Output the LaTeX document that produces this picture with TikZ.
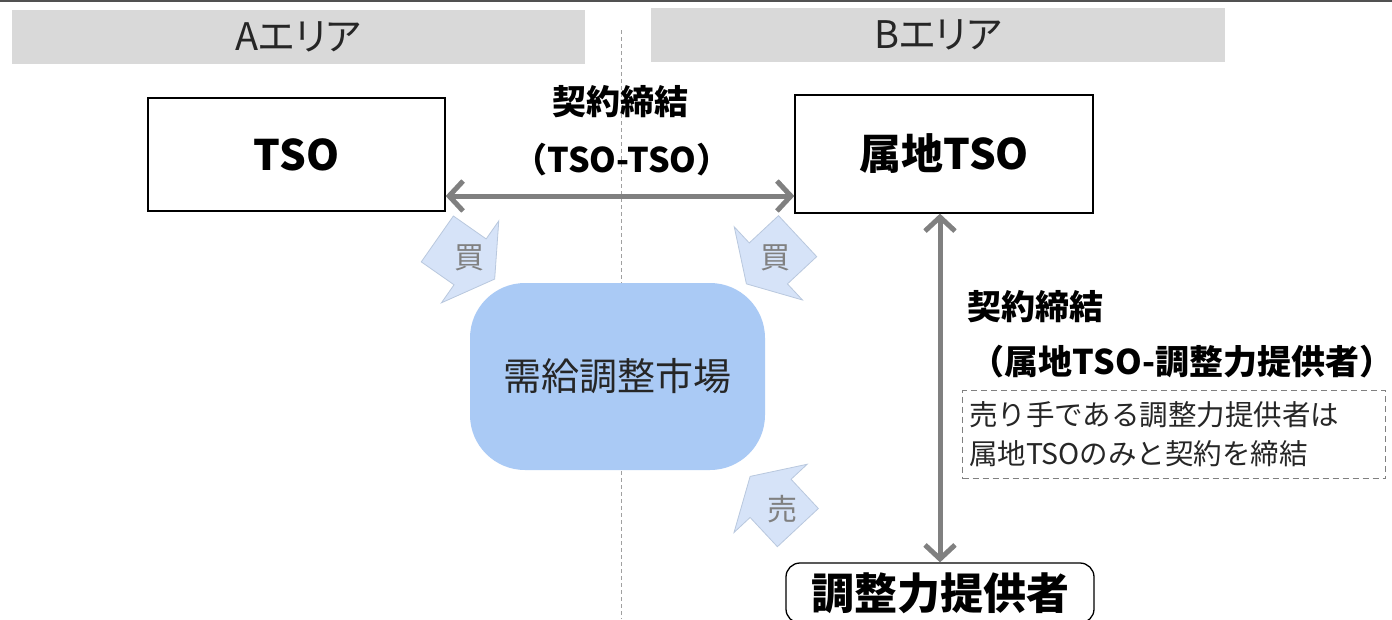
\documentclass[tikz,border=0pt]{standalone}
\usepackage{fontspec}
\setmainfont{Noto Sans CJK JP}
\newfontfamily\bannerfont{Noto Sans CJK JP}[RawFeature=+palt]
\usetikzlibrary{arrows.meta}
\definecolor{bannergray}{RGB}{217,217,217}
\definecolor{marketblue}{RGB}{170,202,245}
\definecolor{arrowfill}{RGB}{214,227,248}
\definecolor{arrowedge}{RGB}{185,200,222}
\definecolor{conngray}{RGB}{128,128,128}
\definecolor{divgray}{RGB}{160,160,160}
\definecolor{textdark}{RGB}{38,38,38}
\newcommand\blockarrow[3]{%
  \draw[blockarr, shift={(#1,#2)}, rotate=#3]
    (-35pt,-28pt) -- (5pt,-28pt) -- (5pt,-50pt) -- (35pt,0pt)
    -- (5pt,50pt) -- (5pt,28pt) -- (-35pt,28pt) -- cycle;}
\begin{document}
\begin{tikzpicture}[x=1pt,y=-1pt,
  banner/.style={fill=bannergray, draw=none, inner sep=0pt,
    minimum height=54pt, text=textdark,
    font=\bannerfont\fontsize{38}{44}\selectfont},
  tsobox/.style={draw=black, line width=1.3pt, fill=white, inner sep=0pt,
    font=\fontsize{42}{50}\selectfont\bfseries},
  market/.style={fill=marketblue, draw=none, rounded corners=55pt,
    minimum width=295pt, minimum height=187pt, inner sep=0pt,
    text=textdark, font=\fontsize{38}{44}\selectfont},
  provbox/.style={draw=black, line width=1.3pt, fill=white,
    rounded corners=14pt, minimum width=308pt, minimum height=60pt,
    inner sep=0pt, font=\fontsize{43}{50}\selectfont\bfseries},
  lbl/.style={inner sep=0pt, font=\fontsize{34}{40}\selectfont\bfseries},
  notebox/.style={draw=conngray, line width=1pt, dash pattern=on 6pt off 4pt,
    minimum width=423pt, minimum height=88pt, inner xsep=6pt, inner ysep=0pt,
    text width=410pt, align=left,
    font=\fontsize{28.5}{39}\selectfont, text=textdark},
  conn/.style={draw=conngray, line width=5pt,
    {Straight Barb[length=14pt,width=30pt]}-{Straight Barb[length=14pt,width=30pt]}},
  divider/.style={draw=divgray, line width=1pt, dash pattern=on 4pt off 3pt},
  blockarr/.style={fill=arrowfill, draw=arrowedge, line width=0.8pt, line join=miter},
  tradelbl/.style={inner sep=0pt, text=conngray, font=\fontsize{30}{36}\selectfont}
]
\useasboundingbox (0,0) rectangle (1392,619);
\fill[white] (0,0) rectangle (1392,619);
% top rule
\draw[line width=2pt, color=textdark!80] (0,1) -- (1392,1);
% area banners
\node[banner, minimum width=573pt] (areaA) at (298.5,37) {Aエリア};
\node[banner, minimum width=574pt] (areaB) at (938,35) {Bエリア};
% divider
\coordinate (divtop) at (621,30);
\coordinate (divbot) at (621,619);
\draw[divider] (divtop) -- (divbot);
% TSO boxes
\node[tsobox, minimum width=297pt, minimum height=113pt] (tso) at (296.5,154.5) {TSO};
\node[tsobox, minimum width=298pt, minimum height=118pt] (ztso) at (944,154) {属地TSO};
% market
\node[market] (mkt) at (617.5,376.5) {需給調整市場};
% provider
\node[provbox] (prov) at (940,593) {調整力提供者};
% labels
\node[lbl] (c1) at (620,102) {契約締結};
\node[lbl] (c2) at (622,160) {（TSO-TSO）};
\node[lbl] (c3) at (1035,307) {契約締結};
\node[lbl] (c4) at (1182,362) {（属地TSO-調整力提供者）};
\node[notebox, anchor=north west] (note) at (962,390) {売り手である調整力提供者は\\属地TSOのみと契約を締結};
% connectors
\draw[conn] ([yshift=-41.5pt]tso.east) -- ([yshift=-41.5pt]tso.east -| ztso.west);
\draw[conn] (ztso.south -| prov.north) -- (prov.north);
% trade arrows
\blockarrow{466}{259}{-35}
\blockarrow{772}{260}{-137}
\blockarrow{774}{502}{133}
\node[tradelbl] (buyA) at (469,258) {買};
\node[tradelbl] (buyB) at (775,258) {買};
\node[tradelbl] (sell) at (782,509) {売};
\end{tikzpicture}
\end{document}
